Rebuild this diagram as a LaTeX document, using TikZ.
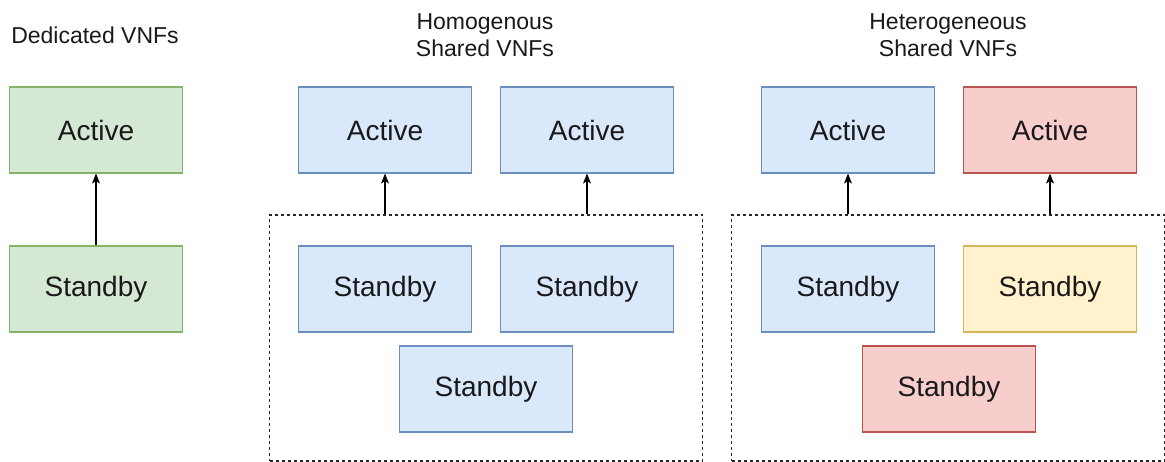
\documentclass[tikz,border=0pt]{standalone}
\usepackage{fontspec}
\setmainfont{Liberation Sans}
\usetikzlibrary{arrows.meta}
\definecolor{gfill}{HTML}{D5E8D4}\definecolor{gline}{HTML}{82B366}
\definecolor{bfill}{HTML}{DAE8FC}\definecolor{bline}{HTML}{6C8EBF}
\definecolor{rfill}{HTML}{F8CECC}\definecolor{rline}{HTML}{B85450}
\definecolor{yfill}{HTML}{FFF2CC}\definecolor{yline}{HTML}{D6B656}
\begin{document}
\begin{tikzpicture}[x=1pt,y=-1pt,
  vnf/.style={draw, line width=1.2pt, minimum width=173pt, minimum height=86pt,
    inner sep=0pt, font=\fontsize{28}{34}\selectfont, text=black!90},
  green/.style={vnf, fill=gfill, draw=gline},
  blue/.style={vnf, fill=bfill, draw=bline},
  red/.style={vnf, fill=rfill, draw=rline},
  yellow/.style={vnf, fill=yfill, draw=yline},
  pool/.style={draw=black!85, line width=1.1pt, dash pattern=on 3pt off 3pt,
    minimum width=433pt, minimum height=246pt, inner sep=0pt},
  title/.style={align=center, font=\fontsize{23}{27}\selectfont, text=black!90, inner sep=0pt},
  arr/.style={-{Stealth[length=10pt,width=8pt,inset=2.5pt]}, line width=1.1pt}]
\useasboundingbox (0,0) rectangle (1165,462);

% Dedicated VNFs
\node[title, anchor=base] (t1) at (95,44) {Dedicated VNFs};
\node[green] (da) at (96,130) {Active};
\node[green] (ds) at (96,289) {Standby};
\draw[arr] (ds.north) -- (da.south);

% Homogenous shared VNFs
\node[title, anchor=base] (t2) at (485,57) {Homogenous\\Shared VNFs};
\node[blue] (ha1) at (385,130) {Active};
\node[blue] (ha2) at (587,130) {Active};
\node[pool] (hp) at (486,338) {};
\node[blue] (hs1) at (385,289) {Standby};
\node[blue] (hs2) at (587,289) {Standby};
\node[blue] (hs3) at (486,389) {Standby};
\draw[arr] (ha1.south |- hp.north) -- (ha1.south);
\draw[arr] (ha2.south |- hp.north) -- (ha2.south);

% Heterogeneous shared VNFs
\node[title, anchor=base] (t3) at (948,57) {Heterogeneous\\Shared VNFs};
\node[blue] (ea1) at (848,130) {Active};
\node[red] (ea2) at (1050,130) {Active};
\node[pool] (ep) at (948,338) {};
\node[blue] (es1) at (848,289) {Standby};
\node[yellow] (es2) at (1050,289) {Standby};
\node[red] (es3) at (949,389) {Standby};
\draw[arr] (ea1.south |- ep.north) -- (ea1.south);
\draw[arr] (ea2.south |- ep.north) -- (ea2.south);
\end{tikzpicture}
\end{document}
